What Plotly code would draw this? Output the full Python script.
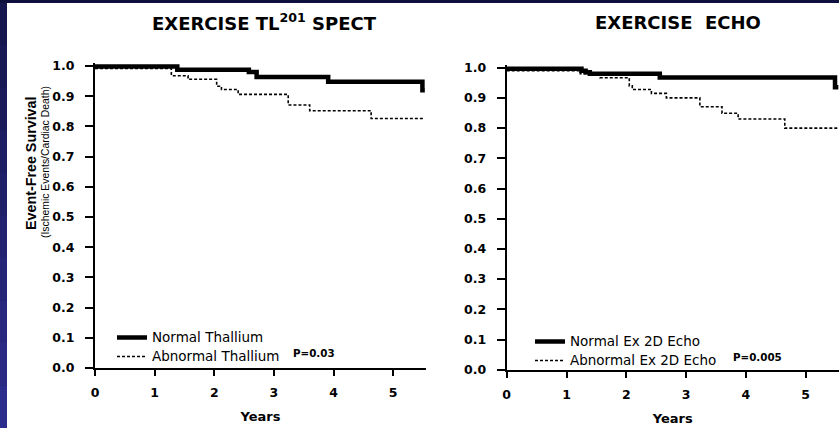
import plotly.graph_objects as go

# ---- data ----
years_ticks = [0, 1, 2, 3, 4, 5]
surv_ticks = [0.0, 0.1, 0.2, 0.3, 0.4, 0.5, 0.6, 0.7, 0.8, 0.9, 1.0]

tl_normal_t = [0, 1.38, 2.58, 2.71, 3.91, 5.49, 5.53]
tl_normal_s = [0.998, 0.988, 0.980, 0.964, 0.948, 0.920, 0.920]

tl_abn_t = [0, 1.28, 1.56, 2.04, 2.12, 2.40, 3.24, 3.60, 4.63, 5.50]
tl_abn_s = [0.992, 0.968, 0.956, 0.933, 0.922, 0.906, 0.871, 0.852, 0.826, 0.826]

echo_normal_t = [0, 1.25, 1.32, 1.39, 2.56, 5.49, 5.55]
echo_normal_s = [0.997, 0.990, 0.985, 0.980, 0.968, 0.935, 0.935]

echo_abn_t = [0, 1.23, 1.56, 2.05, 2.10, 2.42, 2.67, 3.23, 3.60, 3.87, 4.65, 5.55]
echo_abn_s = [0.990, 0.980, 0.967, 0.940, 0.928, 0.915, 0.900, 0.871, 0.849, 0.830, 0.800, 0.800]

W, H = 839, 428
thick = dict(color="black", width=4.5, shape="hv")
dotted = dict(color="black", width=1.6, dash="3px,2px", shape="hv")

def big(s):
    return "<span style='font-size:13.5px'>" + s + "</span>"

fig = go.Figure()
fig.add_trace(go.Scatter(x=tl_normal_t, y=tl_normal_s, mode="lines", line=thick,
                         name=big("Normal Thallium"), xaxis="x", yaxis="y", legend="legend"))
fig.add_trace(go.Scatter(x=tl_abn_t, y=tl_abn_s, mode="lines", line=dotted,
                         name=big("Abnormal Thallium"), xaxis="x", yaxis="y", legend="legend"))
fig.add_trace(go.Scatter(x=echo_normal_t, y=echo_normal_s, mode="lines", line=thick,
                         name=big("Normal Ex 2D Echo"), xaxis="x2", yaxis="y2", legend="legend2"))
fig.add_trace(go.Scatter(x=echo_abn_t, y=echo_abn_s, mode="lines", line=dotted,
                         name=big("Abnormal Ex 2D Echo"), xaxis="x2", yaxis="y2", legend="legend2"))

tickfont = dict(family="DejaVu Sans", size=12.5, color="black", weight="bold")
titlefont = dict(family="DejaVu Sans", size=13, color="black", weight="bold")

def xax(domain, anchor):
    return dict(domain=domain, anchor=anchor, range=[0, 5.55], tickvals=years_ticks,
                showline=True, linecolor="black", linewidth=2, ticks="outside",
                ticklen=6, tickwidth=1.5, tickcolor="black", showgrid=False,
                zeroline=False, tickfont=tickfont, ticklabelstandoff=6,
                automargin=False,
                title=dict(text="Years", font=titlefont, standoff=13))

def yax(domain, anchor):
    return dict(domain=domain, anchor=anchor, range=[0, 1.01], tickvals=surv_ticks,
                tickformat=".1f", showline=True, linecolor="black", linewidth=2,
                ticks="outside", ticklen=8, tickwidth=1.5, tickcolor="black",
                showgrid=False, zeroline=False, tickfont=tickfont, ticklabelstandoff=8,
                automargin=False)

legfont = dict(family="DejaVu Sans", size=11, color="black")

# background frame: dark left strip (gradient) and top strip, white page
shapes = [dict(type="rect", xref="paper", yref="paper", x0=7 / W, x1=1,
               y0=0, y1=1 - 3 / H, fillcolor="white", line=dict(width=0), layer="below"),
          dict(type="rect", xref="paper", yref="paper", x0=0, x1=1,
               y0=1 - 3 / H, y1=1, fillcolor="#10103e", line=dict(width=0), layer="below")]
n_seg = 10
c_top, c_bot = (22, 22, 78), (44, 44, 140)
for i in range(n_seg):
    f = i / (n_seg - 1)
    col = "rgb(%d,%d,%d)" % tuple(round(a + (b - a) * f) for a, b in zip(c_top, c_bot))
    shapes.append(dict(type="rect", xref="paper", yref="paper", x0=0, x1=7 / W,
                       y0=1 - (3 + (i + 1) * (H - 3) / n_seg) / H,
                       y1=1 - (3 + i * (H - 3) / n_seg) / H,
                       fillcolor=col, line=dict(width=0), layer="below"))

fig.update_layout(
    width=W, height=H, margin=dict(l=0, r=0, t=0, b=0, autoexpand=False),
    paper_bgcolor="#1d1d62", plot_bgcolor="rgba(0,0,0,0)",
    xaxis=xax([95 / W, 426 / W], "y"),
    yaxis=yax([60 / H, 365 / H], "x"),
    xaxis2=xax([506.7 / W, 838.6 / W], "y2"),
    yaxis2=yax([58.3 / H, 363.3 / H], "x2"),
    legend=dict(x=112 / W, y=1 - 323 / H, xanchor="left", yanchor="top",
                bgcolor="rgba(0,0,0,0)", font=legfont, itemwidth=30),
    legend2=dict(x=530 / W, y=1 - 327 / H, xanchor="left", yanchor="top",
                 bgcolor="rgba(0,0,0,0)", font=legfont, itemwidth=30),
    shapes=shapes,
    annotations=[
        dict(text="EXERCISE TL<sup>201</sup> SPECT", xref="paper", yref="paper",
             x=264 / W, y=1 - 22 / H, showarrow=False, xanchor="center", yanchor="middle",
             font=dict(family="DejaVu Sans", size=18, color="black", weight="bold")),
        dict(text="EXERCISE\u00a0\u00a0ECHO", xref="paper", yref="paper",
             x=678 / W, y=1 - 22.5 / H, showarrow=False, xanchor="center", yanchor="middle",
             font=dict(family="DejaVu Sans", size=18, color="black", weight="bold")),
        dict(text="Event-Free Survival", xref="paper", yref="paper", textangle=-90,
             x=31 / W, y=1 - 163 / H, showarrow=False, xanchor="center", yanchor="middle",
             font=dict(family="Liberation Sans", size=14.3, color="black", weight="bold")),
        dict(text="(Ischemic Events/Cardiac Death)", xref="paper", yref="paper", textangle=-90,
             x=45 / W, y=1 - 162 / H, showarrow=False, xanchor="center", yanchor="middle",
             font=dict(family="Liberation Sans", size=10.4, color="black")),
        dict(text="P=0.03", xref="paper", yref="paper",
             x=291 / W, y=1 - 353 / H, showarrow=False, xanchor="left", yanchor="middle",
             font=dict(family="DejaVu Sans", size=10.3, color="black", weight="bold")),
        dict(text="P=0.005", xref="paper", yref="paper",
             x=731 / W, y=1 - 357 / H, showarrow=False, xanchor="left", yanchor="middle",
             font=dict(family="DejaVu Sans", size=10.3, color="black", weight="bold")),
    ],
)

fig.write_html("out.html", config={"displayModeBar": False},
               post_script="document.body.style.margin='0';document.body.style.padding='0';")
